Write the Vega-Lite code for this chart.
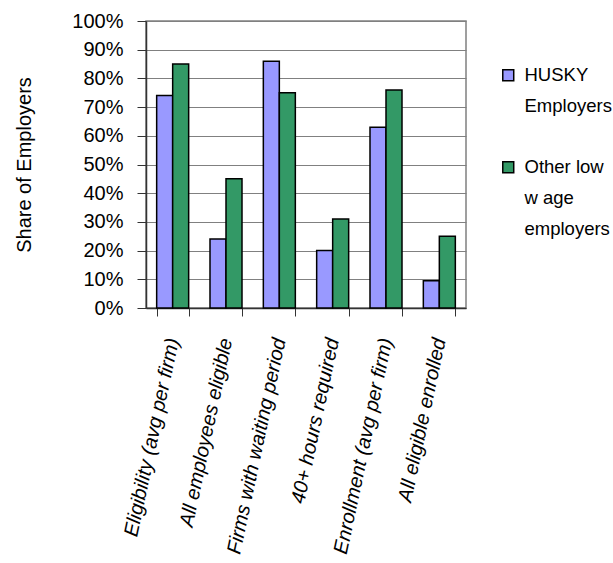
{
  "$schema": "https://vega.github.io/schema/vega-lite/v6.json",
  "width": 320,
  "height": 287,
  "autosize": {"type": "none"},
  "padding": {"left": 146, "top": 21, "right": 147, "bottom": 255},
  "background": "white",
  "config": {
    "font": "Liberation Sans",
    "view": {"stroke": "#808080", "strokeWidth": 1.5},
    "style": {"guide-label": {"lineHeight": 31}}
  },
  "data": {
    "values": [
      {"category": "Eligibility (avg per firm)", "group": "HUSKY Employers", "share": 74},
      {"category": "Eligibility (avg per firm)", "group": "Other low wage employers", "share": 85},
      {"category": "All employees eligible", "group": "HUSKY Employers", "share": 24},
      {"category": "All employees eligible", "group": "Other low wage employers", "share": 45},
      {"category": "Firms with waiting period", "group": "HUSKY Employers", "share": 86},
      {"category": "Firms with waiting period", "group": "Other low wage employers", "share": 75},
      {"category": "40+ hours required", "group": "HUSKY Employers", "share": 20},
      {"category": "40+ hours required", "group": "Other low wage employers", "share": 31},
      {"category": "Enrollment (avg per firm)", "group": "HUSKY Employers", "share": 63},
      {"category": "Enrollment (avg per firm)", "group": "Other low wage employers", "share": 76},
      {"category": "All eligible enrolled", "group": "HUSKY Employers", "share": 9.5},
      {"category": "All eligible enrolled", "group": "Other low wage employers", "share": 25}
    ]
  },
  "mark": {"type": "bar", "stroke": "black", "strokeWidth": 1.5},
  "encoding": {
    "x": {
      "field": "category",
      "type": "nominal",
      "sort": null,
      "scale": {"paddingInner": 0.4, "paddingOuter": 0.2},
      "axis": {
        "title": null,
        "labelAngle": -78,
        "labelFontSize": 20,
        "labelFontStyle": "italic",
        "labelColor": "black",
        "labelPadding": 22,
        "labelLimit": 400,
        "tickBand": "extent",
        "tickSize": 8,
        "tickColor": "#333333",
        "domainColor": "#333333",
        "domainWidth": 1.5
      }
    },
    "xOffset": {"field": "group", "type": "nominal", "scale": {"paddingInner": 0, "paddingOuter": 0}},
    "y": {
      "field": "share",
      "type": "quantitative",
      "scale": {"domain": [0, 100]},
      "axis": {
        "title": "Share of Employers",
        "titleFontSize": 20,
        "titleFontWeight": "normal",
        "titleColor": "black",
        "titlePadding": 37,
        "values": [0, 10, 20, 30, 40, 50, 60, 70, 80, 90, 100],
        "labelExpr": "datum.value + '%'",
        "labelFontSize": 20,
        "labelColor": "black",
        "labelPadding": 14,
        "tickSize": 9,
        "tickColor": "#333333",
        "domainColor": "#333333",
        "domainWidth": 1.5,
        "grid": true,
        "gridColor": "#808080",
        "gridWidth": 1.2
      }
    },
    "color": {
      "field": "group",
      "type": "nominal",
      "scale": {"domain": ["HUSKY Employers", "Other low wage employers"], "range": ["#9999FF", "#339966"]},
      "legend": {
        "title": null,
        "orient": "none",
        "legendX": 353,
        "legendY": 45,
        "symbolType": "square",
        "symbolSize": 120,
        "symbolStrokeColor": "black",
        "symbolStrokeWidth": 1.5,
        "symbolOpacity": 1,
        "labelFontSize": 18.5,
        "labelColor": "black",
        "labelOffset": 7,
        "labelBaseline": "middle",
        "labelExpr": "datum.label == 'HUSKY Employers' ? ['HUSKY', 'Employers'] : ['Other low', 'w age', 'employers']",
        "labelLimit": 200,
        "rowPadding": 42
      }
    }
  }
}
